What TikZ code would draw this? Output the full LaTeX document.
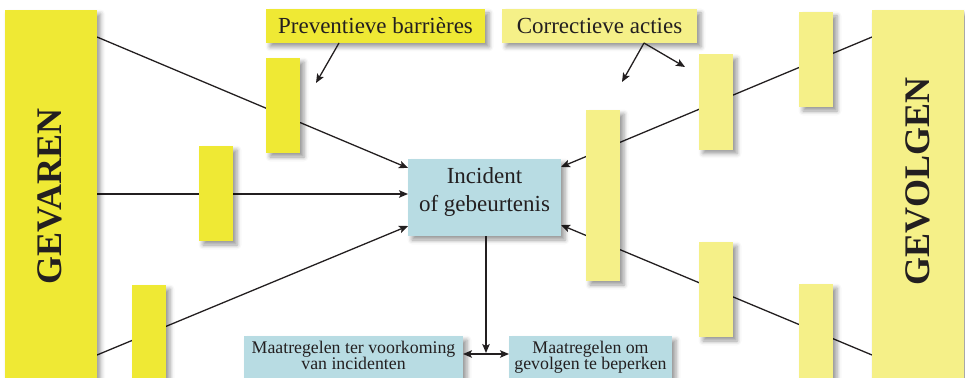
\documentclass[tikz,border=0pt]{standalone}
\usepackage{fontspec}
\setmainfont{Liberation Serif}
\usetikzlibrary{arrows.meta,shadows.blur}
\definecolor{ybright}{HTML}{EFE934}
\definecolor{ylight}{HTML}{F5F088}
\definecolor{iblue}{HTML}{B8DCE3}
\definecolor{ink}{HTML}{231F20}
\newcommand\bottomfont{\fontsize{17.8}{16}\selectfont\lineskiplimit=-6pt\relax}
\pgfdeclarelayer{bg}
\pgfsetlayers{bg,main}
\begin{document}
\begin{tikzpicture}[x=1pt,y=-1pt,
  shad/.style={blur shadow={shadow xshift=4pt,shadow yshift=-4pt,shadow blur radius=4.5pt,shadow opacity=40}},
  box/.style={rectangle,inner sep=0pt,shad},
  bar/.style={box,minimum width=34pt,minimum height=95pt},
  barP/.style={bar,fill=ybright},
  barC/.style={bar,fill=ylight},
  big/.style={box,minimum width=92pt,minimum height=374pt},
  bigtxt/.style={rotate=90,inner sep=0pt,text=ink,font=\bfseries\fontsize{36}{40}\selectfont},
  lab/.style={box,minimum height=34pt,text=ink,font=\fontsize{23}{27}\selectfont},
  txt/.style={inner sep=0pt,align=center,text=ink},
  conn/.style={draw=ink,line width=1.3pt},
  arr/.style={conn,-{Stealth[length=9pt,width=7.5pt,inset=2pt]}},
  darr/.style={conn,{Stealth[length=9pt,width=7.5pt,inset=2pt]}-{Stealth[length=9pt,width=7.5pt,inset=2pt]}}]
\useasboundingbox (0,0) rectangle (965,377);
% big side boxes
\node[big,fill=ybright] (gevaren) at (50.5,197) {};
\node[bigtxt] (gevarentxt) at (49.5,196.5) {GEVAREN};
\node[big,fill=ylight] (gevolgen) at (917.5,197) {};
\node[bigtxt] (gevolgentxt) at (918,181.5) {GEVOLGEN};
% preventive barriers
\node[barP] (p1) at (283,105.5) {};
\node[barP] (p2) at (216,193.5) {};
\node[barP] (p3) at (149,332.5) {};
% corrective actions
\node[barC] (c1) at (816,59.5) {};
\node[barC] (c2) at (716,102) {};
\node[barC,minimum height=171pt] (c3) at (603,195.5) {};
\node[barC] (c4) at (716,289.5) {};
\node[barC] (c5) at (816,331.5) {};
% labels
\node[lab,fill=ybright,minimum width=219pt] (prev) at (375.5,26) {Preventieve barrières};
\node[lab,fill=ylight,minimum width=195pt] (corr) at (599.5,26) {Correctieve acties};
% incident
\node[box,fill=iblue,minimum width=153pt,minimum height=77pt] (inc) at (484.5,197.5) {};
\node[txt,font=\fontsize{23}{28}\selectfont] (inctxt) at (484.5,192) {Incident\\of gebeurtenis};
% bottom boxes
\node[box,fill=iblue,minimum width=219pt,minimum height=46pt] (bl) at (353.5,359) {};
\node[txt,font=\bottomfont] (bltxt) at (353.5,355) {Maatregelen ter voorkoming\\van incidenten};
\node[box,fill=iblue,minimum width=163pt,minimum height=46pt] (br) at (590.5,359) {};
\node[txt,font=\bottomfont] (brtxt) at (590.5,357) {Maatregelen om\\gevolgen te beperken};
% connector end points
\coordinate (g1) at (97,37);
\coordinate (g2) at (97,194);
\coordinate (g3) at (97,355);
\coordinate (i1) at (408,168);
\coordinate (i2) at (408,194);
\coordinate (i3) at (408,226);
\coordinate (v1) at (872,37);
\coordinate (v2) at (872,355);
\coordinate (i4) at (561,167);
\coordinate (i5) at (561,225);
\coordinate (d1) at (486,236);
\coordinate (d2) at (486,353);
\coordinate (h1) at (463,354);
\coordinate (h2) at (509,354);
\coordinate (pa) at (339,43);
\coordinate (pb) at (316,83);
\coordinate (ca) at (644,43);
\coordinate (cb) at (622,82);
\coordinate (cc) at (685,67);
\begin{pgfonlayer}{bg}
\draw[arr] (g1) -- (i1);
\draw[arr] (g2) -- (i2);
\draw[arr] (g3) -- (i3);
\draw[arr] (v1) -- (i4);
\draw[arr] (v2) -- (i5);
\end{pgfonlayer}
\draw[arr] (d1) -- (d2);
\draw[darr] (h1) -- (h2);
\draw[arr] (pa) -- (pb);
\draw[arr] (ca) -- (cb);
\draw[arr] (ca) -- (cc);
\end{tikzpicture}
\end{document}
